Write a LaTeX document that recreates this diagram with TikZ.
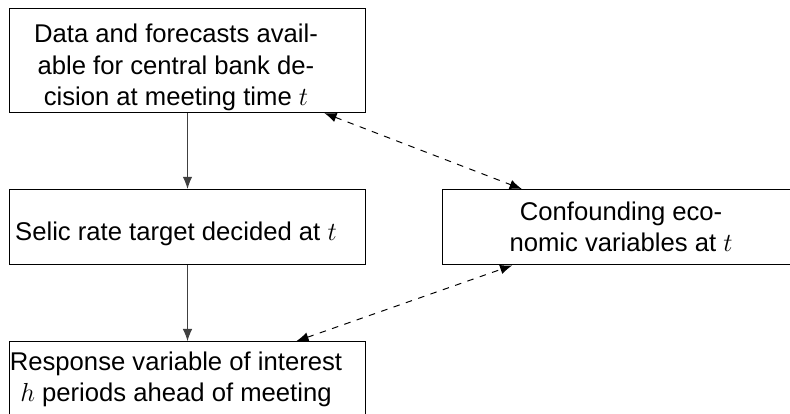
\documentclass[tikz,border=0pt]{standalone}
\usepackage{fontspec}
\setmainfont{Liberation Sans}
\usepackage{tikz}
\usetikzlibrary{arrows.meta}
\newcommand{\lefttext}[2][3.2pt]{\raisebox{-#1}[\height][\depth]{%
  \makebox[150pt]{\parbox{160pt}{\centering #2}}}\hspace{10.6pt}}

\begin{document}
\begin{tikzpicture}[>={Latex[length=5.6pt,width=4.4pt]}, font=\fontsize{11.8}{14.3}\selectfont,
  box/.style={draw, line width=0.45pt, inner sep=0pt, align=center,
              minimum width=164.2pt, minimum height=34.7pt},
  link/.style={->, line width=0.45pt, draw=black!75},
  conf/.style={<->, dashed, line width=0.45pt}]
  \useasboundingbox (0,0) rectangle (363.4pt,-190.4pt);
  \node[box, minimum height=48pt] (data) at (86.25pt,-27.8pt)
    {\lefttext{Data and forecasts avail-\\able for central bank de-\\cision at meeting time $t$}};
  \node[box] (selic) at (86.25pt,-104.5pt) {\lefttext{Selic rate target decided at $t$}};
  \node[box] (resp) at (86.25pt,-174.5pt)
    {\lefttext[0pt]{Response variable of interest\\$h$ periods ahead of meeting}};
  \node[box] (econ) at (285.7pt,-104.5pt) {Confounding eco-\\nomic variables at $t$};
  \draw[link] (data) -- (selic);
  \draw[link] (selic) -- (resp);
  \draw[conf] (data) -- (econ);
  \draw[conf] (resp) -- (econ);
\end{tikzpicture}
\end{document}
